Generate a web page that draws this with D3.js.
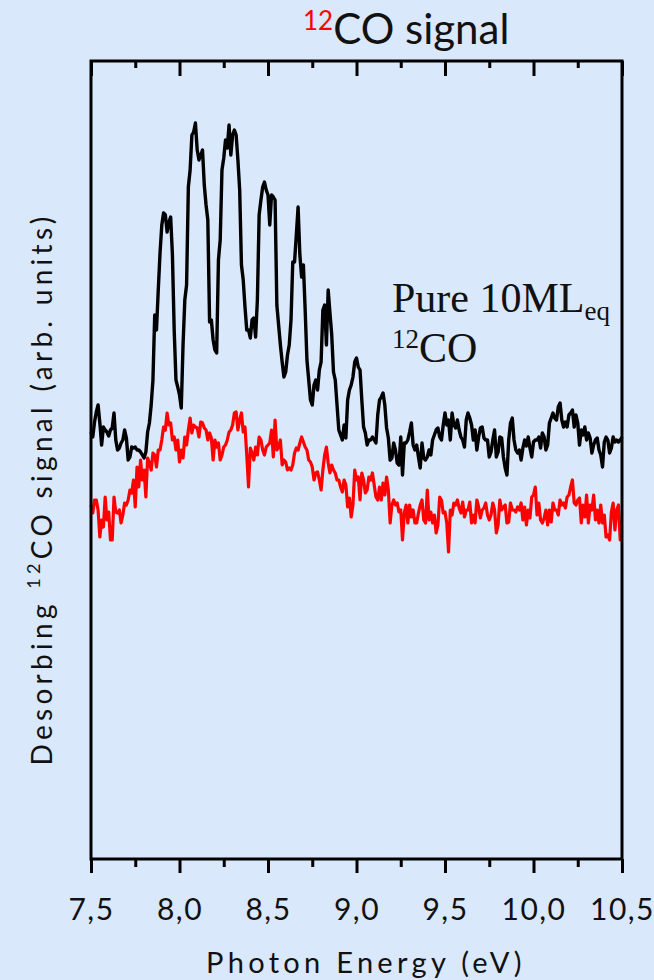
<!DOCTYPE html>
<html><head><meta charset="utf-8">
<script src="https://cdn.jsdelivr.net/npm/d3@7"></script>
<style>html,body{margin:0;padding:0;background:#d9e8fb;} svg{display:block}</style>
</head><body><svg id="c" width="654" height="980"></svg>
<script>
// Photon energy grid (eV)
const energy = [
7.50,7.51,7.52,7.53,7.54,7.55,7.56,7.57,7.58,7.59,7.60,7.61,7.62,7.63,7.64,7.65,7.66,7.67,7.68,7.69,
7.70,7.71,7.72,7.73,7.74,7.75,7.76,7.77,7.78,7.79,7.80,7.81,7.82,7.83,7.84,7.85,7.86,7.87,7.88,7.89,
7.90,7.91,7.92,7.93,7.94,7.95,7.96,7.97,7.98,7.99,8.00,8.01,8.02,8.03,8.04,8.05,8.06,8.07,8.08,8.09,
8.10,8.11,8.12,8.13,8.14,8.15,8.16,8.17,8.18,8.19,8.20,8.21,8.22,8.23,8.24,8.25,8.26,8.27,8.28,8.29,
8.30,8.31,8.32,8.33,8.34,8.35,8.36,8.37,8.38,8.39,8.40,8.41,8.42,8.43,8.44,8.45,8.46,8.47,8.48,8.49,
8.50,8.51,8.52,8.53,8.54,8.55,8.56,8.57,8.58,8.59,8.60,8.61,8.62,8.63,8.64,8.65,8.66,8.67,8.68,8.69,
8.70,8.71,8.72,8.73,8.74,8.75,8.76,8.77,8.78,8.79,8.80,8.81,8.82,8.83,8.84,8.85,8.86,8.87,8.88,8.89,
8.90,8.91,8.92,8.93,8.94,8.95,8.96,8.97,8.98,8.99,9.00,9.01,9.02,9.03,9.04,9.05,9.06,9.07,9.08,9.09,
9.10,9.11,9.12,9.13,9.14,9.15,9.16,9.17,9.18,9.19,9.20,9.21,9.22,9.23,9.24,9.25,9.26,9.27,9.28,9.29,
9.30,9.31,9.32,9.33,9.34,9.35,9.36,9.37,9.38,9.39,9.40,9.41,9.42,9.43,9.44,9.45,9.46,9.47,9.48,9.49,
9.50,9.51,9.52,9.53,9.54,9.55,9.56,9.57,9.58,9.59,9.60,9.61,9.62,9.63,9.64,9.65,9.66,9.67,9.68,9.69,
9.70,9.71,9.72,9.73,9.74,9.75,9.76,9.77,9.78,9.79,9.80,9.81,9.82,9.83,9.84,9.85,9.86,9.87,9.88,9.89,
9.90,9.91,9.92,9.93,9.94,9.95,9.96,9.97,9.98,9.99,10.00,10.01,10.02,10.03,10.04,10.05,10.06,10.07,10.08,10.09,
10.10,10.11,10.12,10.13,10.14,10.15,10.16,10.17,10.18,10.19,10.20,10.21,10.22,10.23,10.24,10.25,10.26,10.27,10.28,10.29,
10.30,10.31,10.32,10.33,10.34,10.35,10.36,10.37,10.38,10.39,10.40,10.41,10.42,10.43,10.44,10.45,10.46,10.47,10.48,10.49,
10.50];
// Pure 10ML_eq 12CO (black), arb. units
const signalBlack = [
4.27,4.22,4.37,4.47,4.54,4.36,4.14,4.32,4.29,4.27,4.23,4.29,4.31,4.46,4.19,4.09,4.11,4.16,4.19,4.29,
4.21,3.99,4.02,4.12,4.11,4.12,4.09,4.09,4.07,4.04,4.01,4.07,4.27,4.36,4.54,4.79,5.44,5.29,5.69,6.06,
6.34,6.46,6.44,6.27,6.37,6.42,6.04,5.29,4.79,4.72,4.64,4.51,5.14,5.59,5.74,6.72,6.89,7.24,7.27,7.36,
7.09,6.99,7.04,7.09,6.74,6.54,6.39,5.37,5.39,5.19,5.09,5.06,5.99,6.19,6.89,7.01,7.19,7.11,7.34,7.04,
7.24,7.29,7.24,6.99,6.69,5.94,5.79,5.52,5.29,5.29,5.21,5.39,5.41,5.22,5.59,6.44,6.59,6.72,6.77,6.69,
6.64,6.34,6.64,6.62,6.59,5.54,5.34,5.14,4.97,4.82,4.87,5.04,5.14,5.39,5.97,5.97,6.24,6.52,6.04,5.82,
5.94,5.49,4.99,4.79,4.59,4.54,4.74,4.79,4.69,4.89,4.97,5.49,5.54,5.14,5.69,5.46,5.24,4.87,4.79,4.54,
4.29,4.24,4.19,4.34,4.21,4.59,4.69,4.74,4.82,4.97,5.01,4.92,4.89,4.59,4.32,4.26,4.14,4.19,4.19,4.22,
4.19,4.16,4.44,4.59,4.62,4.66,4.54,4.31,4.21,3.99,4.01,4.16,4.09,3.96,3.94,4.22,3.84,4.16,4.16,4.19,
4.27,4.36,4.14,4.09,4.14,4.02,3.91,4.16,4.01,3.99,4.02,4.09,4.04,4.19,4.24,4.29,4.31,4.22,4.19,4.34,
4.46,4.34,4.39,4.19,4.46,4.34,4.31,4.39,4.29,4.22,4.19,4.12,4.39,4.46,4.41,4.34,4.19,4.29,4.09,4.22,
4.31,4.32,4.21,4.19,4.19,4.02,4.07,4.19,4.29,4.02,4.07,4.22,4.21,4.02,3.91,3.84,4.19,4.36,4.41,4.19,
4.09,4.06,4.09,3.99,4.11,4.19,4.13,4.22,4.11,4.02,4.17,4.19,4.19,4.22,4.11,4.26,4.22,4.09,4.14,4.36,
4.41,4.46,4.41,4.39,4.52,4.56,4.39,4.32,4.37,4.32,4.44,4.46,4.49,4.32,4.44,4.36,4.14,4.29,4.24,4.32,
4.19,4.26,4.21,4.06,4.14,4.19,4.21,4.09,4.04,3.92,4.17,4.22,4.19,4.06,4.11,4.22,4.17,4.19,4.17,4.19,
4.22];
// second sample (red), arb. units
const signalRed = [
3.54,3.46,3.59,3.59,3.49,3.22,3.39,3.32,3.62,3.39,3.47,3.19,3.19,3.62,3.47,3.46,3.49,3.36,3.44,3.56,
3.54,3.59,3.69,3.66,3.79,3.52,3.92,3.72,3.99,3.79,3.89,3.62,4.01,3.96,3.89,4.06,4.04,3.92,4.09,4.09,
4.19,4.32,4.29,4.46,4.34,4.36,4.19,4.22,4.09,4.19,3.97,4.09,4.01,4.22,4.14,4.29,4.41,4.26,4.34,4.32,
4.31,4.22,4.37,4.36,4.31,4.29,4.19,4.26,4.21,3.99,4.19,4.12,4.16,3.99,4.04,4.12,4.14,4.19,4.27,4.29,
4.34,4.46,4.47,4.29,4.39,4.46,4.27,4.32,4.04,3.72,4.11,4.06,3.99,4.12,4.04,4.22,4.19,4.09,4.04,4.12,
4.14,4.16,4.29,4.02,4.39,4.09,4.12,4.19,3.94,3.99,3.97,3.89,3.91,3.89,3.94,4.06,4.11,4.09,4.16,4.22,
4.17,4.12,4.09,3.99,3.97,3.92,3.79,3.86,3.87,3.79,3.69,3.89,4.04,4.12,3.96,3.86,3.94,3.89,3.86,3.79,
3.79,3.72,3.67,3.79,3.74,3.52,3.61,3.42,3.54,3.89,3.79,3.82,3.59,3.86,3.79,3.66,3.69,3.82,3.79,3.86,
3.74,3.62,3.59,3.72,3.59,3.76,3.64,3.82,3.69,3.36,3.54,3.59,3.54,3.56,3.47,3.49,3.19,3.46,3.54,3.36,
3.54,3.42,3.49,3.36,3.36,3.46,3.54,3.59,3.39,3.36,3.69,3.39,3.47,3.36,3.44,3.26,3.34,3.62,3.59,3.46,
3.47,3.36,3.07,3.49,3.44,3.56,3.54,3.59,3.51,3.46,3.57,3.42,3.49,3.49,3.57,3.36,3.44,3.36,3.59,3.52,
3.41,3.49,3.51,3.56,3.44,3.39,3.44,3.56,3.49,3.26,3.34,3.59,3.49,3.52,3.54,3.36,3.37,3.56,3.49,3.49,
3.47,3.52,3.49,3.56,3.39,3.52,3.34,3.49,3.41,3.62,3.64,3.72,3.44,3.56,3.39,3.36,3.41,3.49,3.34,3.49,
3.37,3.56,3.49,3.49,3.44,3.59,3.54,3.56,3.51,3.62,3.64,3.72,3.79,3.56,3.54,3.59,3.61,3.36,3.54,3.42,
3.64,3.36,3.54,3.49,3.64,3.39,3.49,3.36,3.54,3.36,3.44,3.22,3.24,3.19,3.47,3.56,3.29,3.49,3.54,3.19,
3.21];
const xMajorTicks = [7.5,8.0,8.5,9.0,9.5,10.0,10.5];
const xTickLabels = ["7,5","8,0","8,5","9,0","9,5","10,0","10,5"];
const xMinorTicks = [7.75,8.25,8.75,9.25,9.75,10.25];

const svg = d3.select("#c");
const W = 654, H = 980;
const m = {left:91, right:622, top:61, bottom:859};
svg.append("rect").attr("width",W).attr("height",H).attr("fill","#d9e8fb");

const x = d3.scaleLinear().domain([7.5,10.5]).range([m.left,m.right]);
const y = d3.scaleLinear().domain([0,7.98]).range([m.bottom,m.top]);

const line = d3.line().x(d=>x(d[0])).y(d=>y(d[1]));
const black = energy.map((e,i)=>[e,signalBlack[i]]);
const red = energy.map((e,i)=>[e,signalRed[i]]);

svg.append("path").datum(red).attr("d",line).attr("fill","none")
  .attr("stroke","#ff0000").attr("stroke-width",3.2).attr("stroke-linejoin","round");
svg.append("path").datum(black).attr("d",line).attr("fill","none")
  .attr("stroke","#000").attr("stroke-width",3.4).attr("stroke-linejoin","round");

// axes
const gB = svg.append("g").attr("transform",`translate(0,${m.bottom})`)
  .call(d3.axisBottom(x).tickValues(xMajorTicks).tickFormat((d,i)=>xTickLabels[i]).tickSize(14).tickPadding(26).tickSizeOuter(0));
gB.select(".domain").remove();
gB.selectAll(".tick line").attr("stroke","#000").attr("stroke-width",3);
gB.selectAll(".tick text").attr("font-family","Lato, sans-serif").attr("font-size",30)
  .attr("fill","#111").attr("letter-spacing","1.5px");
const gBm = svg.append("g").attr("transform",`translate(0,${m.bottom})`)
  .call(d3.axisBottom(x).tickValues(xMinorTicks).tickFormat("").tickSize(8).tickSizeOuter(0));
gBm.select(".domain").remove();
gBm.selectAll(".tick line").attr("stroke","#000").attr("stroke-width",3);

const gT = svg.append("g").attr("transform",`translate(0,${m.top})`)
  .call(d3.axisTop(x).tickValues(xMajorTicks).tickFormat("").tickSize(-15).tickSizeOuter(0));
gT.select(".domain").remove();
gT.selectAll(".tick line").attr("stroke","#000").attr("stroke-width",3);
const gTm = svg.append("g").attr("transform",`translate(0,${m.top})`)
  .call(d3.axisTop(x).tickValues(xMinorTicks).tickFormat("").tickSize(-7).tickSizeOuter(0));
gTm.select(".domain").remove();
gTm.selectAll(".tick line").attr("stroke","#000").attr("stroke-width",3);

// frame
svg.append("rect").attr("x",m.left).attr("y",m.top)
  .attr("width",m.right-m.left).attr("height",m.bottom-m.top)
  .attr("fill","none").attr("stroke","#000").attr("stroke-width",3);

// x label
svg.append("text").attr("x",366).attr("y",973).attr("text-anchor","middle")
  .attr("font-family","Lato, sans-serif").attr("font-size",29).attr("letter-spacing","4.3px")
  .attr("fill","#111").text("Photon Energy (eV)");

// y label
const yl = svg.append("text").attr("transform","translate(52,489) rotate(-90)")
  .attr("text-anchor","middle").attr("font-family","Lato, sans-serif")
  .attr("font-size",28).attr("letter-spacing","4.3px").attr("fill","#111");
yl.append("tspan").text("Desorbing ");
yl.append("tspan").attr("font-size",18).attr("dy",-12).text("12");
yl.append("tspan").attr("dy",12).text("CO signal (arb. units)");

// title
const tt = svg.append("text").attr("x",303).attr("y",44).attr("font-family","Lato, sans-serif");
tt.append("tspan").attr("fill","#ff0000").attr("font-size",26).attr("dy",-14).text("12");
tt.append("tspan").attr("fill","#111").attr("font-size",42).attr("dy",14).text("CO signal");

// annotation
const a1 = svg.append("text").attr("x",392).attr("y",312)
  .attr("font-family","'Liberation Serif','Times New Roman',serif").attr("fill","#111");
a1.append("tspan").attr("font-size",42).text("Pure 10ML");
a1.append("tspan").attr("font-size",27).attr("dy",8).text("eq");
const a2 = svg.append("text").attr("x",392).attr("y",362)
  .attr("font-family","'Liberation Serif','Times New Roman',serif").attr("fill","#111");
a2.append("tspan").attr("font-size",27).attr("dy",-14).text("12");
a2.append("tspan").attr("font-size",42).attr("dy",14).text("CO");
</script></body></html>
